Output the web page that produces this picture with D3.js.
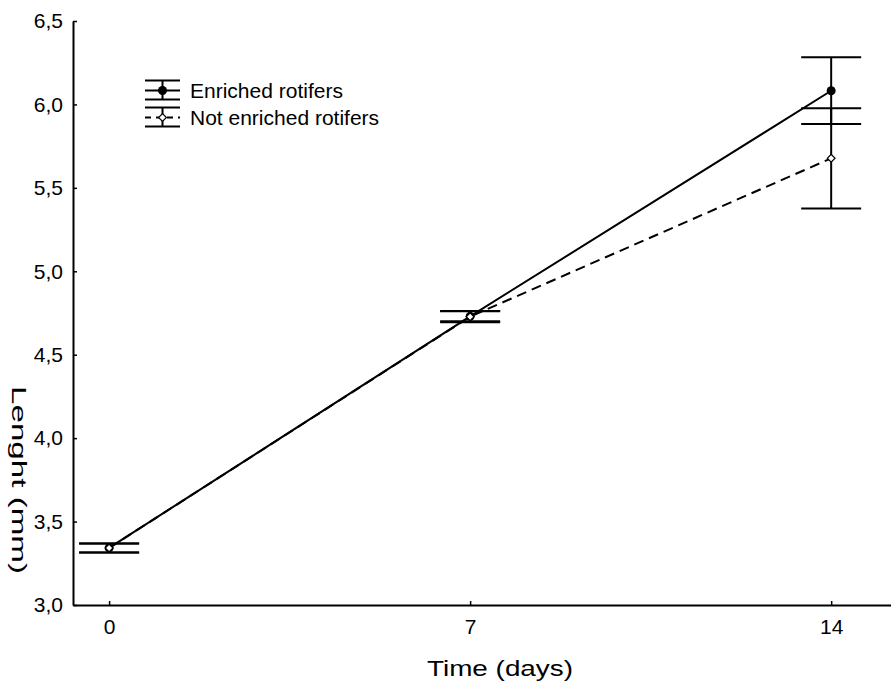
<!DOCTYPE html>
<html>
<head>
<meta charset="utf-8">
<script src="https://cdn.jsdelivr.net/npm/d3@7"></script>
<style>
  body { margin: 0; background: #fff; }
  text { font-family: "Liberation Sans", Arial, sans-serif; fill: #000; }
</style>
</head>
<body>
<svg width="891" height="684"></svg>
<script>
// data
var days = [0, 7, 14];
var enrichedMean = [3.342, 4.73, 6.082];
var enrichedErr = [0.027, 0.03, 0.2];
var notEnrichedMean = [3.342, 4.728, 5.677];
var notEnrichedErr = [0.027, 0.034, 0.3];
var yTicks = [3.0, 3.5, 4.0, 4.5, 5.0, 5.5, 6.0, 6.5];
var seriesNames = ["Enriched rotifers", "Not enriched rotifers"];

var svg = d3.select('svg');
var x = d3.scaleLinear().domain([-0.7, 15.16]).range([73, 891]);
var y = d3.scaleLinear().domain([3.0, 6.5]).range([605, 21]);
var fmt = d3.formatLocale({decimal: ",", thousands: ".", grouping: [3], currency: ["", ""]}).format(".1f");

// axes
var yAxis = svg.append('g')
               .attr('transform', 'translate(73,0)')
               .call(d3.axisLeft(y).tickValues(yTicks).tickFormat(fmt).tickSizeInner(-4).tickSizeOuter(0).tickPadding(10));
var xAxis = svg.append('g')
               .attr('transform', 'translate(0,605)')
               .call(d3.axisBottom(x).tickValues(days).tickSizeInner(-4).tickSizeOuter(0).tickPadding(14));
svg.selectAll('.domain').attr('stroke', '#000').attr('stroke-width', 2);
svg.selectAll('.tick line').attr('stroke', '#000').attr('stroke-width', 1.5);
svg.selectAll('.tick text').attr('font-size', '21px').attr('font-family', '"Liberation Sans", Arial, sans-serif').attr('fill', '#000');

svg.append('text').text('Time (days)')
   .attr('x', 500).attr('y', 676)
   .attr('text-anchor', 'middle')
   .attr('font-size', '22px')
   .attr('textLength', 146)
   .attr('lengthAdjust', 'spacingAndGlyphs');
svg.append('text').text('Lenght (mm)')
   .attr('transform', 'translate(12,480) rotate(90)')
   .attr('text-anchor', 'middle')
   .attr('font-size', '21px')
   .attr('textLength', 188)
   .attr('lengthAdjust', 'spacingAndGlyphs');

var series = [
  {mean: notEnrichedMean, err: notEnrichedErr, dash: '10,6', filled: false},
  {mean: enrichedMean, err: enrichedErr, dash: null, filled: true}
];

var line = d3.line().x(function(d) { return x(d[0]); }).y(function(d) { return y(d[1]); });

series.forEach(function(s) {
  var pts = days.map(function(d, i) { return [d, s.mean[i]]; });
  svg.append('path')
     .datum(pts)
     .attr('d', line)
     .attr('fill', 'none')
     .attr('stroke', '#000')
     .attr('stroke-width', 2)
     .attr('stroke-dasharray', s.dash);
});

// error bars
series.forEach(function(s) {
  var g = svg.append('g').attr('stroke', '#000').attr('stroke-width', 2);
  days.forEach(function(d, i) {
    var lo = s.mean[i] - s.err[i], hi = s.mean[i] + s.err[i];
    g.append('line').attr('x1', x(d)).attr('x2', x(d)).attr('y1', y(lo)).attr('y2', y(hi));
    g.append('line').attr('x1', x(d) - 30).attr('x2', x(d) + 30).attr('y1', y(lo)).attr('y2', y(lo));
    g.append('line').attr('x1', x(d) - 30).attr('x2', x(d) + 30).attr('y1', y(hi)).attr('y2', y(hi));
  });
});

// markers: filled dots first, open diamonds on top
var square = d3.symbol().type(d3.symbolSquare).size(30);
series.slice().reverse().forEach(function(s) {
  days.forEach(function(d, i) {
    if (s.filled) {
      svg.append('circle').attr('cx', x(d)).attr('cy', y(s.mean[i])).attr('r', 4.5).attr('fill', '#000');
    } else {
      svg.append('path').attr('d', square)
         .attr('transform', 'translate(' + x(d) + ',' + y(s.mean[i]) + ') rotate(45)')
         .attr('fill', '#fff').attr('stroke', '#000').attr('stroke-width', 1.2);
    }
  });
});

// legend
var legend = svg.append('g').attr('transform', 'translate(145,0)');
var rows = [
  {y: 90.5, dash: null, filled: true},
  {y: 117.5, dash: '6,5', filled: false}
];
rows.forEach(function(r, i) {
  var g = legend.append('g').attr('stroke', '#000').attr('stroke-width', 2);
  g.append('line').attr('x1', 0).attr('x2', 35).attr('y1', r.y).attr('y2', r.y).attr('stroke-dasharray', r.dash);
  g.append('line').attr('x1', 17.5).attr('x2', 17.5).attr('y1', r.y - 10).attr('y2', r.y + 9);
  g.append('line').attr('x1', 0).attr('x2', 35).attr('y1', r.y - 10).attr('y2', r.y - 10);
  g.append('line').attr('x1', 0).attr('x2', 35).attr('y1', r.y + 9).attr('y2', r.y + 9);
  if (r.filled) {
    legend.append('circle').attr('cx', 17.5).attr('cy', r.y).attr('r', 4.5).attr('fill', '#000');
  } else {
    legend.append('path').attr('d', square)
          .attr('transform', 'translate(17.5,' + r.y + ') rotate(45)')
          .attr('fill', '#fff').attr('stroke', '#000').attr('stroke-width', 1.2);
  }
  legend.append('text').text(seriesNames[i])
        .attr('x', 45).attr('y', r.y + 7)
        .attr('font-size', '21px');
});
</script>
</body>
</html>
